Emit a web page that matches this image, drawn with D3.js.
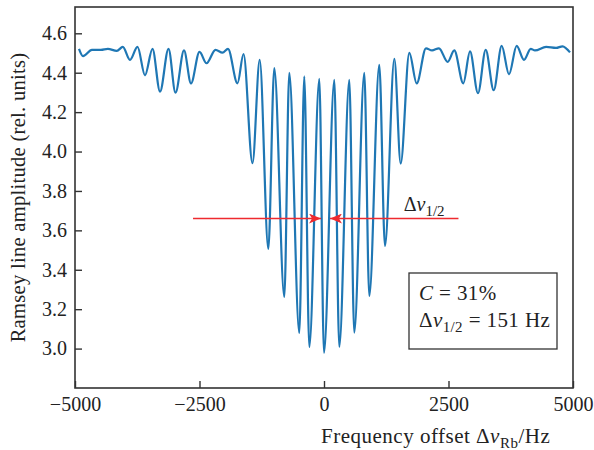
<!DOCTYPE html>
<html>
<head>
<meta charset="utf-8">
<script src="https://cdn.jsdelivr.net/npm/d3@7"></script>
<style>
  body { margin: 0; background: #fff; }
  svg text { font-family: "Liberation Serif", "Times New Roman", serif; fill: #222; }
</style>
</head>
<body>
<script>
// Ramsey fringe (extrema of the trace)
var freq = [-4920, -4839, -4660, -4480, -4340, -4160, -4040, -3896, -3745, -3594, -3444, -3293,
            -3122, -2982, -2811, -2671, -2500, -2359, -2179, -2038, -1928, -1737, -1616, -1436,
            -1291, -1118, -998, -797, -697, -496, -396, -295, -94, 0, 207, 307,
            508, 608, 809, 910, 1110, 1225, 1412, 1540, 1713, 1861, 2048, 2169,
            2309, 2484, 2616, 2797, 2932, 3092, 3247, 3408, 3568, 3715, 3869, 4016,
            4151, 4237, 4460, 4659, 4790, 4940]
var amp = [4.521, 4.484, 4.516, 4.516, 4.521, 4.511, 4.531, 4.465, 4.531, 4.387, 4.521, 4.304,
           4.521, 4.299, 4.513, 4.346, 4.506, 4.448, 4.516, 4.502, 4.521, 4.346, 4.495, 3.941,
           4.465, 3.506, 4.424, 3.262, 4.399, 3.079, 4.382, 3.008, 4.369, 2.978, 4.364, 3.008,
           4.364, 3.081, 4.399, 3.267, 4.440, 3.521, 4.470, 3.939, 4.501, 4.346, 4.524, 4.513,
           4.524, 4.455, 4.513, 4.346, 4.508, 4.296, 4.516, 4.311, 4.536, 4.392, 4.536, 4.465,
           4.521, 4.513, 4.531, 4.526, 4.534, 4.503]

var yTicks = [3.0, 3.2, 3.4, 3.6, 3.8, 4.0, 4.2, 4.4, 4.6]
var xTicks = [-5000, -2500, 0, 2500, 5000]

// half-width marker
var arrowLevel = 3.66
var arrowFrom = [-2630, 2700]
var arrowTip = [-60, 120]

var margin = {top: 7, right: 21, bottom: 62, left: 75},
    width = 594 - margin.left - margin.right,
    height = 450 - margin.top - margin.bottom

var x = d3.scaleLinear().domain([-5000, 5000]).range([0, width])
var y = d3.scaleLinear().domain([2.8, 4.7335]).range([height, 0])

var svg = d3.select("body")
    .append("svg")
        .attr("width", 594)
        .attr("height", 450)

var g = svg.append("g")
        .attr("transform", "translate(" + margin.left + "," + margin.top + ")")

svg.append("defs").append("marker")
    .attr("id", "head")
    .attr("viewBox", "0 0 12 10")
    .attr("refX", 12).attr("refY", 5)
    .attr("markerWidth", 12).attr("markerHeight", 10)
    .attr("markerUnits", "userSpaceOnUse")
    .attr("orient", "auto")
  .append("path")
    .attr("d", "M0,0 L12,5 L0,10 L3,5 Z")
    .attr("fill", "#ee2a2f")

// axes, ticks inward
var xAxis = d3.axisBottom(x).tickValues(xTicks).tickSize(-7).tickPadding(9)
    .tickFormat(d3.format("d"))
var yAxis = d3.axisLeft(y).tickValues(yTicks).tickSize(-7).tickPadding(8)
    .tickFormat(d3.format(".1f"))

g.append("g")
    .attr("class", "x axis")
    .attr("transform", "translate(0," + height + ")")
    .call(xAxis)
g.append("g")
    .attr("class", "y axis")
    .call(yAxis)

g.selectAll(".axis text").attr("font-size", 20).attr("fill", "#222")
g.selectAll(".axis line").attr("stroke", "#333").attr("stroke-width", 1.4)
g.selectAll(".axis .domain").remove()

// frame
g.append("rect")
    .attr("width", width).attr("height", height)
    .attr("fill", "none").attr("stroke", "#333").attr("stroke-width", 1.6)

// the fringe trace
var line = d3.line()
    .x(function(d, i) { return x(freq[i]) })
    .y(function(d) { return y(d) })
    .curve(d3.curveMonotoneX)

g.append("path")
    .datum(amp)
    .attr("d", line)
    .attr("fill", "none")
    .attr("stroke", "#1f77b4")
    .attr("stroke-width", 2.2)
    .attr("stroke-linejoin", "round")

// red arrows
arrowFrom.forEach(function(f, i) {
  g.append("line")
      .attr("x1", x(f)).attr("x2", x(arrowTip[i]))
      .attr("y1", y(arrowLevel)).attr("y2", y(arrowLevel))
      .attr("stroke", "#ee2a2f").attr("stroke-width", 1.6)
      .attr("marker-end", "url(#head)")
})

var lbl = g.append("text")
    .attr("x", x(1600)).attr("y", y(3.70))
    .attr("font-size", 20)
lbl.append("tspan").text("Δ")
lbl.append("tspan").attr("font-style", "italic").text("v")
lbl.append("tspan").attr("font-size", 15).attr("dy", 5).text("1/2")

// info box
g.append("rect")
    .attr("x", 334).attr("y", 266)
    .attr("width", 148).attr("height", 76)
    .attr("fill", "#fff").attr("stroke", "#333").attr("stroke-width", 1.3)

var t1 = g.append("text").attr("x", 344).attr("y", 293)
    .attr("font-size", 21).attr("letter-spacing", 0.4)
t1.append("tspan").attr("font-style", "italic").text("C")
t1.append("tspan").text(" = 31%")

var t2 = g.append("text").attr("x", 344).attr("y", 320)
    .attr("font-size", 21).attr("letter-spacing", 0.4)
t2.append("tspan").text("Δ")
t2.append("tspan").attr("font-style", "italic").text("v")
t2.append("tspan").attr("font-size", 15).attr("dy", 5).text("1/2")
t2.append("tspan").attr("dy", -5).text(" = 151 Hz")

// axis titles
var xt = svg.append("text")
    .attr("x", 321).attr("y", 443)
    .attr("font-size", 21).attr("letter-spacing", 0.5)
xt.append("tspan").text("Frequency offset Δ")
xt.append("tspan").attr("font-style", "italic").text("v")
xt.append("tspan").attr("font-size", 15).attr("dy", 5).text("Rb")
xt.append("tspan").attr("dy", -5).text("/Hz")

svg.append("text")
    .attr("transform", "translate(25," + (margin.top + height / 2) + ") rotate(-90)")
    .attr("text-anchor", "middle")
    .attr("font-size", 20.5)
    .attr("letter-spacing", 0.3)
    .text("Ramsey line amplitude (rel. units)")
</script>
</body>
</html>
